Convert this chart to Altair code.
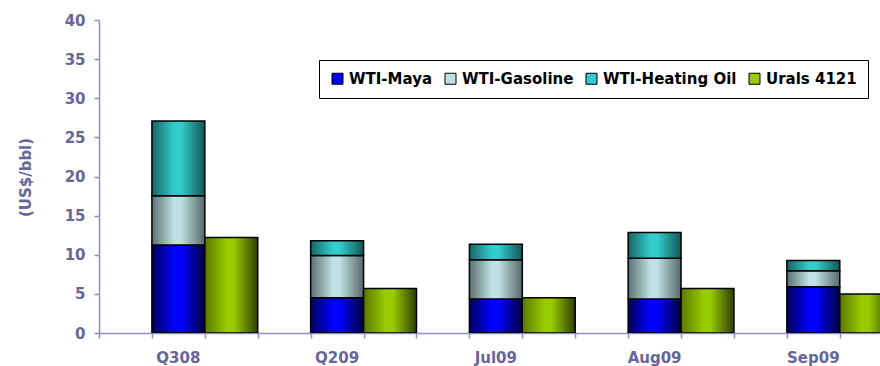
import altair as alt
import pandas as pd

# Spread components (US$/bbl) per period
periods = ["Q308", "Q209", "Jul09", "Aug09", "Sep09"]
wti_maya = [11.25, 4.5, 4.35, 4.35, 5.9]
wti_gasoline = [6.3, 5.4, 5.0, 5.2, 2.05]
wti_heating_oil = [9.55, 1.9, 2.0, 3.3, 1.3]
urals_4121 = [12.2, 5.7, 4.5, 5.7, 5.0]

series_names = ["WTI-Maya", "WTI-Gasoline", "WTI-Heating Oil", "Urals 4121"]
swatch_colors = ["#0000ff", "#bfe0e4", "#33cccc", "#99cc00"]
y_ticks = list(range(0, 41, 5))

AXIS_TEXT = "#666699"
AXIS_LINE = "#8e8ebe"
FONT = "DejaVu Sans"

df = pd.DataFrame({
    "period": periods,
    "idx": list(range(len(periods))),
    "maya": wti_maya,
    "gasoline": wti_gasoline,
    "heating": wti_heating_oil,
    "urals": urals_4121,
})


def shade(edge_l, mid, edge_r):
    """Horizontal cylinder-like shading for a bar."""
    return alt.LinearGradient(
        gradient="linear", x1=0, x2=1, y1=0, y2=0,
        stops=[
            alt.GradientStop(color=edge_l, offset=0),
            alt.GradientStop(color=mid, offset=0.42),
            alt.GradientStop(color=mid, offset=0.55),
            alt.GradientStop(color=edge_r, offset=1),
        ],
    )


# each period occupies three slots: gap, stacked WTI bar, Urals bar
x_scale = alt.Scale(domain=[0, 14.76], nice=False, zero=False)
y_scale = alt.Scale(domain=[0, 40], nice=False)

x_axis = alt.Axis(values=list(range(15)), labels=False, title=None, grid=False,
                  tickSize=5, tickColor=AXIS_LINE, domainColor=AXIS_LINE,
                  domainWidth=1.5, tickWidth=1.5)
y_axis = alt.Axis(values=y_ticks, title="(US$/bbl)", grid=False,
                  tickSize=5, tickColor=AXIS_LINE, domainColor=AXIS_LINE,
                  domainWidth=1.5, tickWidth=1.5,
                  labelFont=FONT, labelFontSize=15, labelFontWeight="bold",
                  labelColor=AXIS_TEXT, labelPadding=9,
                  titleFont=FONT, titleFontSize=15, titleFontWeight="bold",
                  titleColor=AXIS_TEXT, titleX=-74, titleY=157,
                  titleAlign="center", titleBaseline="middle", titleAngle=270)

base = alt.Chart(df).transform_calculate(
    wti_l="3 * datum.idx + 1",
    wti_r="3 * datum.idx + 2",
    ur_r="3 * datum.idx + 3",
    mid="3 * datum.idx + 1.5",
    zero="0",
    s1="datum.maya",
    s2="datum.maya + datum.gasoline",
    s3="datum.maya + datum.gasoline + datum.heating",
)


def bar_layer(fill, x0, x1, y0, y1):
    return base.mark_bar(fill=fill, stroke="black", strokeWidth=1.5, clip=True).encode(
        x=alt.X(f"{x0}:Q", scale=x_scale, axis=x_axis),
        x2=f"{x1}:Q",
        y=alt.Y(f"{y0}:Q", scale=y_scale, axis=y_axis),
        y2=f"{y1}:Q",
    )


maya = bar_layer(shade("#000058", "#0000ff", "#00003c"), "wti_l", "wti_r", "zero", "s1")
gasoline = bar_layer(shade("#5c7072", "#bfe0e4", "#56686a"), "wti_l", "wti_r", "s1", "s2")
heating = bar_layer(shade("#176464", "#33cccc", "#125656"), "wti_l", "wti_r", "s2", "s3")
urals = bar_layer(shade("#5a7800", "#99cc00", "#2e3e00"), "wti_r", "ur_r", "zero", "urals")

labels = base.mark_text(font=FONT, fontSize=15, fontWeight="bold",
                        color=AXIS_TEXT, baseline="middle", align="center").encode(
    x=alt.X("mid:Q", scale=x_scale, axis=x_axis),
    y=alt.value(338),
    text="period:N",
)

legend_src = pd.DataFrame({"series": series_names})
legend_layer = alt.Chart(legend_src).mark_square(stroke="black", strokeWidth=1).encode(
    color=alt.Color(
        "series:N",
        scale=alt.Scale(domain=series_names, range=swatch_colors),
        legend=alt.Legend(
            title=None, orient="none", legendX=220, legendY=40,
            direction="horizontal", columns=4,
            symbolType="square", symbolSize=121,
            symbolStrokeColor="black", symbolStrokeWidth=1, symbolOpacity=1,
            labelFont=FONT, labelFontSize=15, labelFontWeight="bold",
            labelColor="black", labelOffset=4, labelLimit=300,
            columnPadding=10, padding=11,
            strokeColor="black", fillColor="white",
        ),
    ),
).transform_filter("false")

chart = alt.layer(maya, gasoline, heating, urals, labels, legend_layer).properties(
    width=781,
    height=313,
    autosize=alt.AutoSizeParams(type="none"),
    padding={"left": 99, "top": 20, "right": 0, "bottom": 33},
    background="white",
).configure_view(stroke=None)

chart.save("out.html", embed_options={"renderer": "svg", "actions": False})
